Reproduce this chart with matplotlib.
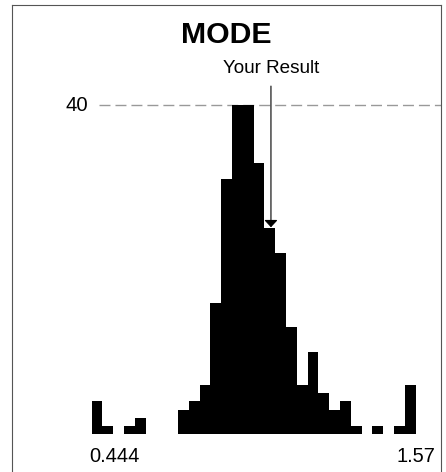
#Histograma MODE con marcador de resultado
import matplotlib
matplotlib.use("Agg")
import matplotlib.pyplot as plt
import numpy as np

#Datos
x_min = 0.444
x_max = 1.57
counts = [4, 1, 0, 1, 2, 0, 0, 0, 3, 4, 6, 16, 31, 40, 40,
          33, 25, 22, 13, 6, 10, 5, 3, 4, 1, 0, 1, 0, 1, 6]
ref_level = 40
your_result = 1.067
your_result_height = 25.15
title = "MODE"
result_label = "Your Result"

edges = np.linspace(x_min, x_max, len(counts) + 1)
narrow = ['Liberation Sans Narrow', 'Liberation Sans', 'DejaVu Sans']
regular = ['Liberation Sans', 'DejaVu Sans']

fig = plt.figure(figsize=(4.46, 4.72), dpi=100)
ax = fig.add_axes([12 / 446, 0, 429 / 446, 467 / 472])

#Barras
ax.bar(edges[:-1], counts, width=np.diff(edges), align='edge',
       color='black', linewidth=0)

#Linea de referencia
ax.axhline(ref_level, xmin=(99 - 12) / 429, xmax=1, color='#999999',
           lw=1.0, ls=(0, (7.9, 3.6)), zorder=0)
ax.text(0.392, ref_level, str(ref_level), ha='center', va='center',
        fontsize=14.6, family=narrow)

#Flecha del resultado
ax.annotate('', xy=(your_result, your_result_height),
            xytext=(your_result, 42.3),
            arrowprops=dict(arrowstyle='-|>,head_length=0.43,head_width=0.4',
                            color='black', lw=0.8, shrinkA=0, shrinkB=0))
ax.text(your_result, 43.9, result_label, ha='center', va='baseline',
        fontsize=13.6, family=narrow)

#Etiquetas del eje x
ax.text(x_min - 0.008, -3.33, f"{x_min:g}", ha='left', va='baseline',
        fontsize=14.4, family=regular)
ax.text(x_max, -3.33, f"{x_max:g}", ha='center', va='baseline',
        fontsize=14.4, family=regular)

#Titulo
fig.text(0.508, 1 - 43.3 / 472, title, ha='center', va='baseline',
         fontsize=21.8, fontweight='bold', family=regular)

ax.set_xlim(0.167, 1.658)
ax.set_ylim(-4.58, 52.15)
ax.set_xticks([])
ax.set_yticks([])
ax.spines['bottom'].set_visible(False)
for s in ['left', 'top', 'right']:
    ax.spines[s].set_color('#555555')
    ax.spines[s].set_linewidth(0.8)

fig.savefig("out.png", dpi=100)
